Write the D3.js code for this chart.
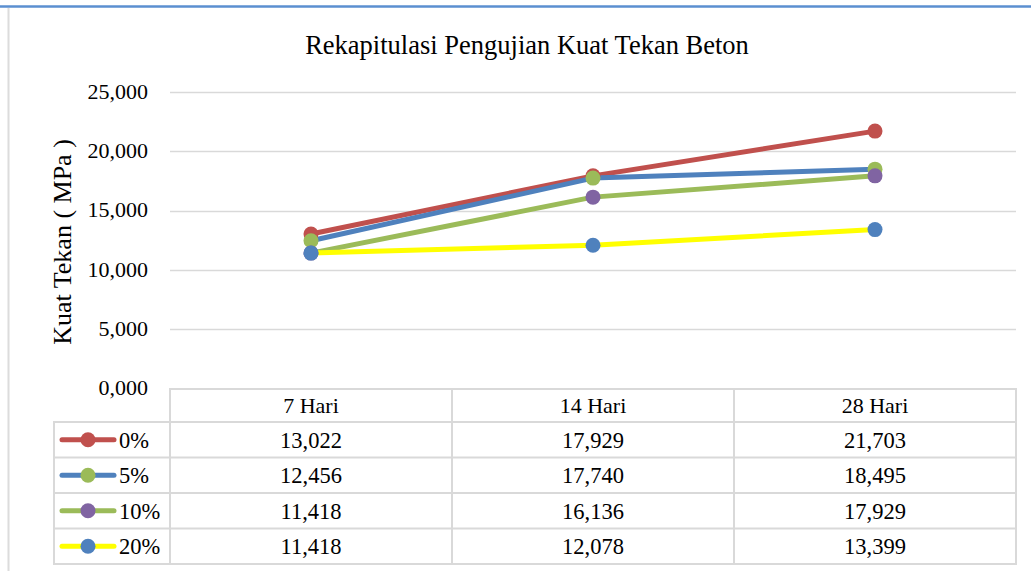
<!DOCTYPE html>
<html>
<head>
<meta charset="utf-8">
<script src="https://cdn.jsdelivr.net/npm/d3@7"></script>
<style>
  body { margin: 0; background: #fff; }
</style>
</head>
<body>
<div id="chart"></div>
<script>
var categories = ['7 Hari', '14 Hari', '28 Hari']
var seriesNames = ['0%', '5%', '10%', '20%']
var values0 = [13.022, 17.929, 21.703]
var values5 = [12.456, 17.740, 18.495]
var values10 = [11.418, 16.136, 17.929]
var values20 = [11.418, 12.078, 13.399]
var yTicks = [0, 5, 10, 15, 20, 25]

var lineColors = ['#C0504D', '#4F81BD', '#9BBB59', '#FFFF00']
var markerColors = ['#C0504D', '#9BBB59', '#8064A2', '#4F81BD']

var series = [values0, values5, values10, values20].map(function(v, i) {
  return { name: seriesNames[i], values: v, line: lineColors[i], marker: markerColors[i] }
})

var width = 1031
var height = 571

var svg = d3.select('#chart')
  .append('svg')
  .attr('width', width)
  .attr('height', height)
  .attr('font-family', "'Liberation Serif', 'Times New Roman', serif")

// page frame bits
svg.append('line')
  .attr('x1', 0).attr('x2', width).attr('y1', 6.5).attr('y2', 6.5)
  .attr('stroke', '#5B8FD0').attr('stroke-width', 2.5)
svg.append('line')
  .attr('x1', 8.5).attr('x2', 8.5).attr('y1', 8).attr('y2', height)
  .attr('stroke', '#dcdcdc').attr('stroke-width', 2)

var plotLeft = 170
var plotRight = 1016

var x = d3.scaleBand()
  .domain(categories)
  .range([plotLeft, plotRight])

var y = d3.scaleLinear()
  .domain([0, 25])
  .range([388.5, 92])

// title
svg.append('text')
  .attr('x', 527)
  .attr('y', 54)
  .attr('text-anchor', 'middle')
  .attr('font-size', 26.5)
  .text('Rekapitulasi Pengujian Kuat Tekan Beton')

// gridlines
svg.append('g')
  .selectAll('line')
  .data(yTicks.filter(function(d) { return d > 0 }))
  .enter().append('line')
  .attr('x1', plotLeft).attr('x2', plotRight)
  .attr('y1', function(d) { return Math.round(y(d)) + 0.5 })
  .attr('y2', function(d) { return Math.round(y(d)) + 0.5 })
  .attr('stroke', '#d9d9d9')
  .attr('stroke-width', 1.5)

// y tick labels
var fmt = function(d) { return d3.format(',')(d) + ',000' }
svg.append('g')
  .selectAll('text')
  .data(yTicks)
  .enter().append('text')
  .attr('x', 148)
  .attr('y', function(d) { return y(d) })
  .attr('dy', '0.3em')
  .attr('text-anchor', 'end')
  .attr('font-size', 22)
  .text(function(d) { return d === 0 ? '0,000' : fmt(d) })

// y axis title
svg.append('text')
  .attr('transform', 'translate(71,242) rotate(-90)')
  .attr('text-anchor', 'middle')
  .attr('font-size', 26)
  .text('Kuat Tekan ( MPa )')

// lines and markers
var line = d3.line()
  .x(function(d, i) { return x(categories[i]) + x.bandwidth() / 2 })
  .y(function(d) { return y(d) })

var plot = svg.append('g')
series.forEach(function(s) {
  plot.append('path')
    .datum(s.values)
    .attr('d', line)
    .attr('fill', 'none')
    .attr('stroke', s.line)
    .attr('stroke-width', 5)
    .attr('stroke-linejoin', 'round')
})
series.forEach(function(s) {
  plot.selectAll(null)
    .data(s.values)
    .enter().append('circle')
    .attr('cx', function(d, i) { return x(categories[i]) + x.bandwidth() / 2 })
    .attr('cy', function(d) { return y(d) })
    .attr('r', 7.5)
    .attr('fill', s.marker)
})

// data table
var tableTop = 389
var headerH = 33
var rowH = 35.5
var legendLeft = 54
var gridColor = '#d9d9d9'
var table = svg.append('g')
  .attr('stroke', gridColor)
  .attr('stroke-width', 2)
  .attr('fill', 'none')

table.append('rect')
  .attr('x', plotLeft).attr('y', tableTop)
  .attr('width', plotRight - plotLeft).attr('height', headerH)
table.append('rect')
  .attr('x', legendLeft).attr('y', tableTop + headerH)
  .attr('width', plotRight - legendLeft).attr('height', rowH * series.length)

table.selectAll('line.row')
  .data(d3.range(1, series.length))
  .enter().append('line')
  .attr('x1', legendLeft).attr('x2', plotRight)
  .attr('y1', function(d) { return tableTop + headerH + d * rowH })
  .attr('y2', function(d) { return tableTop + headerH + d * rowH })

table.selectAll('line.col')
  .data(categories)
  .enter().append('line')
  .attr('x1', function(d) { return x(d) }).attr('x2', function(d) { return x(d) })
  .attr('y1', tableTop)
  .attr('y2', tableTop + headerH + rowH * series.length)

svg.append('g')
  .selectAll('text')
  .data(categories)
  .enter().append('text')
  .attr('x', function(d) { return x(d) + x.bandwidth() / 2 })
  .attr('y', tableTop + headerH / 2)
  .attr('dy', '0.35em')
  .attr('text-anchor', 'middle')
  .attr('font-size', 22)
  .text(function(d) { return d })

var valFmt = d3.format('.3f')
series.forEach(function(s, r) {
  var cy = tableTop + headerH + r * rowH + rowH / 2
  var g = svg.append('g')
  g.selectAll('text')
    .data(s.values)
    .enter().append('text')
    .attr('x', function(d, i) { return x(categories[i]) + x.bandwidth() / 2 })
    .attr('y', cy)
    .attr('dy', '0.35em')
    .attr('text-anchor', 'middle')
    .attr('font-size', 22.5)
    .text(function(d) { return valFmt(d).replace('.', ',') })

  g.append('line')
    .attr('x1', 62).attr('x2', 114)
    .attr('y1', cy).attr('y2', cy)
    .attr('stroke', s.line)
    .attr('stroke-width', 5)
    .attr('stroke-linecap', 'round')
  g.append('circle')
    .attr('cx', 88).attr('cy', cy).attr('r', 7.5)
    .attr('fill', s.marker)
  g.append('text')
    .attr('x', 119)
    .attr('y', cy)
    .attr('dy', '0.35em')
    .attr('font-size', 22.5)
    .text(s.name)
})
</script>
</body>
</html>
